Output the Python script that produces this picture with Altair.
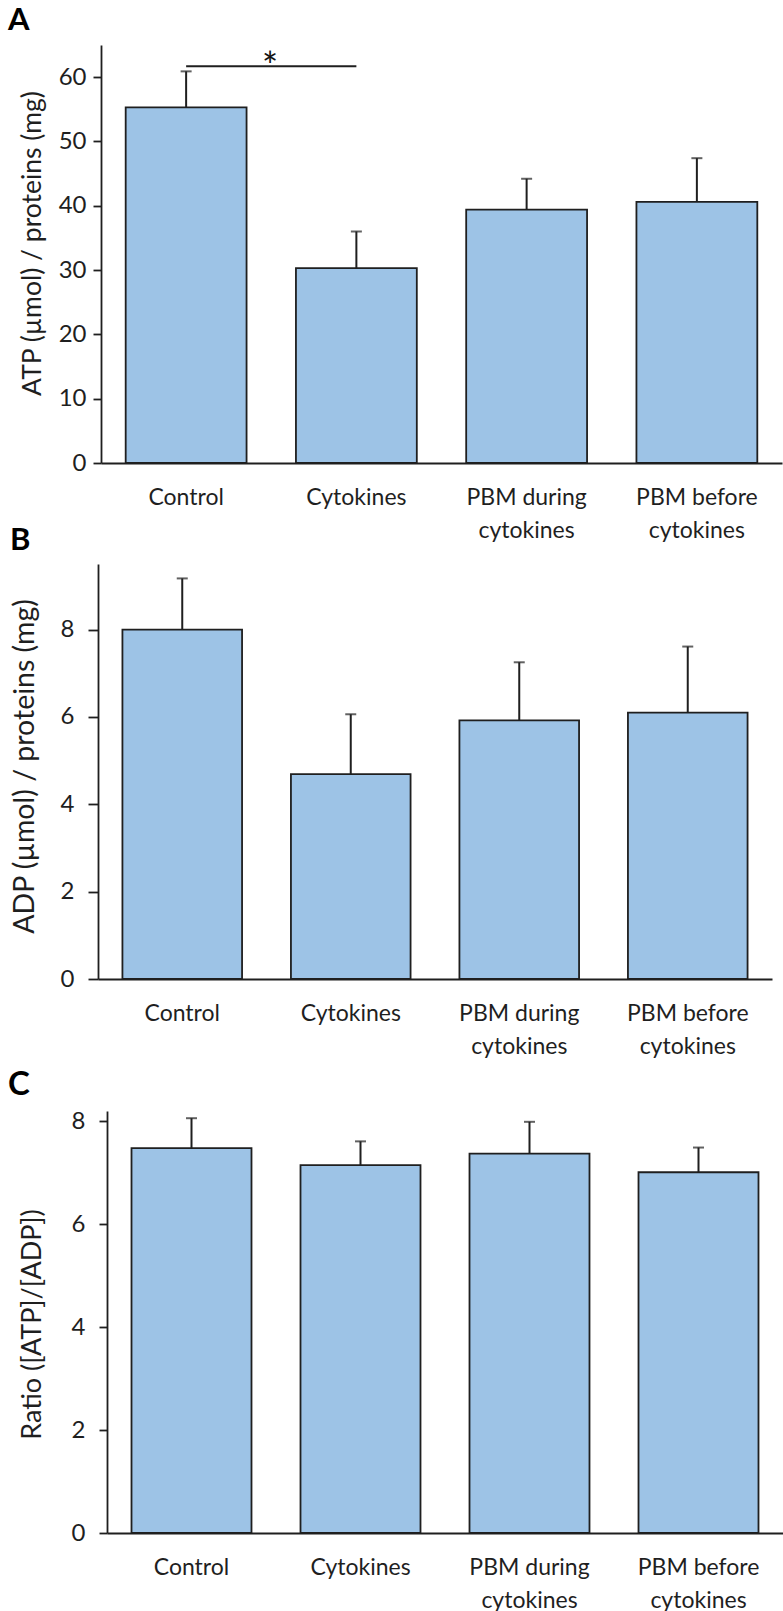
import altair as alt
import pandas as pd

FONT = "Lato"
INK = "#1f1f1f"
FILL = "#9dc3e6"

groups = ["Control", "Cytokines", "PBM during|cytokines", "PBM before|cytokines"]

atp_mean = [55.3, 30.3, 39.4, 40.6]
atp_upper = [60.9, 36.0, 44.2, 47.4]

adp_mean = [8.0, 4.69, 5.92, 6.10]
adp_upper = [9.17, 6.06, 7.25, 7.61]

ratio_mean = [7.48, 7.15, 7.37, 7.01]
ratio_upper = [8.06, 7.61, 7.99, 7.49]

sig_pair = ["Control", "Cytokines"]
sig_level = 61.7

W = 783


def panel(mean, upper, ytitle, ymax, yticks, height, y_bottom, y_top, x_left, x_right,
          tick_len, y_label_pad, title_size, title_x, title_y, letter, letter_x, letter_y,
          letter_size, extra=None):
    df = pd.DataFrame({"group": groups, "mean": mean, "upper": upper})
    base = alt.Chart(df)

    x = alt.X(
        "group:N",
        sort=groups,
        scale=alt.Scale(domain=groups, range=[x_left, x_right],
                        paddingInner=0.29, paddingOuter=0.145),
        axis=alt.Axis(
            title=None, labelAngle=0, ticks=False, tickSize=0,
            labelExpr="split(datum.label, '|')",
            labelFont=FONT, labelFontSize=23, labelColor=INK,
            labelLineHeight=33, labelPadding=23,
            domainColor=INK, domainWidth=1.8,
            offset=-(height - y_bottom), grid=False,
        ),
    )
    y = alt.Y(
        "mean:Q",
        scale=alt.Scale(domain=[0, ymax], range=[y_bottom, y_top], nice=False, zero=True),
        axis=alt.Axis(
            values=yticks, format="d", grid=False, title=ytitle,
            tickSize=tick_len, tickWidth=1.8, tickColor=INK,
            domainColor=INK, domainWidth=1.8,
            labelFont=FONT, labelFontSize=24, labelColor=INK, labelPadding=y_label_pad,
            titleFont=FONT, titleFontSize=title_size, titleFontWeight="normal",
            titleColor=INK, titleX=title_x, titleY=title_y, titleBaseline="middle",
            offset=-x_left,
        ),
    )

    bars = base.mark_bar(fill=FILL, stroke=INK, strokeWidth=1.8).encode(x=x, y=y)
    err = base.mark_rule(color=INK, strokeWidth=2).encode(
        x=alt.X("group:N", sort=groups), y="mean:Q", y2="upper:Q")
    caps = base.mark_tick(color=INK, orient="horizontal", size=11, thickness=2).encode(
        x=alt.X("group:N", sort=groups), y="upper:Q")

    tag = alt.Chart(pd.DataFrame({"t": [letter]})).mark_text(
        align="left", baseline="alphabetic", font=FONT, fontWeight="bold",
        fontSize=letter_size, color="#000000",
    ).encode(x=alt.value(letter_x), y=alt.value(letter_y), text="t:N")

    layers = [bars, err, caps]
    if extra is not None:
        layers += extra
    layers.append(tag)
    return alt.layer(*layers).properties(width=W, height=height)


# significance bracket between Control and Cytokines in the ATP panel
sig_df = pd.DataFrame({"start": [sig_pair[0]], "end": [sig_pair[1]],
                       "level": [sig_level], "mark": ["*"]})
sig_line = alt.Chart(sig_df).mark_rule(color=INK, strokeWidth=2).encode(
    x=alt.X("start:N", bandPosition=0.5),
    x2=alt.X2("end:N", bandPosition=0.5),
    y="level:Q",
)
sig_star = alt.Chart(sig_df).mark_text(
    font=FONT, fontSize=38, color="#111111", baseline="alphabetic", dx=84, dy=14,
).encode(x=alt.X("start:N", bandPosition=0.5), y="level:Q", text="mark:N")

panel_a = panel(atp_mean, atp_upper, "ATP (µmol) / proteins (mg)", 65,
                [0, 10, 20, 30, 40, 50, 60], 520, 463, 45, 101, 782,
                8, 7, 26.5, -69, 243, "A", 8, 30, 31, extra=[sig_line, sig_star])
panel_b = panel(adp_mean, adp_upper, "ADP (µmol) / proteins (mg)", 9.5,
                [0, 2, 4, 6, 8], 540, 459, 44, 98, 772,
                10, 14, 28.5, -74, 246, "B", 10, 30, 31)
panel_c = panel(ratio_mean, ratio_upper, "Ratio ([ATP]/[ADP])", 8.2,
                [0, 2, 4, 6, 8], 551, 473, 51, 107, 783,
                8, 14, 27, -75, 264, "C", 8, 35, 33)

chart = alt.vconcat(panel_a, panel_b, panel_c, spacing=0, bounds="flush").properties(
    padding=0
).configure_view(stroke=None).configure_concat(spacing=0)

chart.save("out.html", embed_options={"renderer": "svg", "actions": False})
